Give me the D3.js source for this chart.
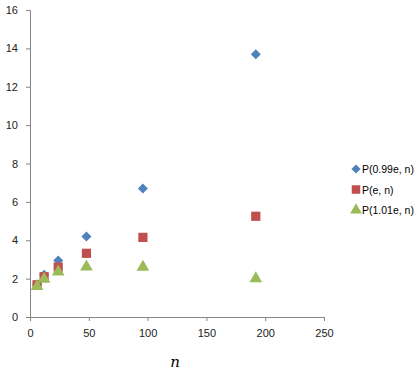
<!DOCTYPE html>
<html lang="en">
    <head>
        <meta charset="UTF-8">
        <script src="https://d3js.org/d3.v7.min.js"></script>
        <title>P(x, n)</title>
        <style>
            body { margin: 0; background: #fff; }
        </style>
    </head>
    <body>
        <div id="container"></div>
    </body>
    <script>
        const nValues = [6, 12, 24, 48, 96, 192];
        const p099 = [1.7, 2.2, 2.95, 4.2, 6.7, 13.7];
        const pE = [1.68, 2.1, 2.6, 3.32, 4.15, 5.25];
        const p101 = [1.6, 1.98, 2.35, 2.62, 2.6, 2.0];
        const seriesNames = ['P(0.99e, n)', 'P(e, n)', 'P(1.01e, n)'];
        const xTicks = [0, 50, 100, 150, 200, 250];
        const yTicks = [0, 2, 4, 6, 8, 10, 12, 14, 16];

        const width = 419;
        const height = 372;
        const margin = {top: 10, right: 95, bottom: 55, left: 30};

        // diamond drawn as a square turned 45 degrees, like the spreadsheet marker
        const series = [
            {name: seriesNames[0], values: p099, color: '#4F81BD', shape: d3.symbolSquare, size: 50, rotate: 45},
            {name: seriesNames[1], values: pE, color: '#C0504D', shape: d3.symbolSquare, size: 85, rotate: 0},
            {name: seriesNames[2], values: p101, color: '#9BBB59', shape: d3.symbolTriangle, size: 70, rotate: 0}
        ];

        const x = d3.scaleLinear().domain([0, 250]).range([margin.left, width - margin.right]);
        const y = d3.scaleLinear().domain([0, 16]).range([height - margin.bottom, margin.top]);

        const svg = d3.select('#container')
            .append('svg')
            .attr('width', width)
            .attr('height', height)
            .style('font-family', '"Liberation Sans", Arial, sans-serif');

        const xAxis = svg.append('g')
            .attr('transform', `translate(0,${y(0)})`)
            .call(d3.axisBottom(x).tickValues(xTicks).tickSize(4).tickPadding(8));

        const yAxis = svg.append('g')
            .attr('transform', `translate(${x(0)},0)`)
            .call(d3.axisLeft(y).tickValues(yTicks).tickSize(4).tickPadding(8));

        [xAxis, yAxis].forEach(function(a){
            a.select('.domain').attr('stroke', '#868686');
            a.selectAll('.tick line').attr('stroke', '#868686');
            a.selectAll('.tick text').attr('fill', '#222').style('font-size', '11px');
        });

        series.forEach(function(s){
            svg.append('g')
                .selectAll('path')
                .data(nValues.map((n, i) => [n, s.values[i]]))
                .enter()
                .append('path')
                .attr('d', d3.symbol().type(s.shape).size(s.size))
                .attr('transform', d => `translate(${x(d[0])},${y(d[1])}) rotate(${s.rotate})`)
                .attr('fill', s.color);
        });

        svg.append('text')
            .attr('x', (x(0) + x(250)) / 2 - 2)
            .attr('y', 367)
            .attr('text-anchor', 'middle')
            .style('font-family', '"DejaVu Serif", serif')
            .style('font-style', 'italic')
            .style('font-size', '15px')
            .text('n');

        const legend = svg.append('g')
            .attr('transform', 'translate(356,169)');

        series.forEach(function(s, i){
            const row = legend.append('g').attr('transform', `translate(0,${i * 20.5})`);
            row.append('path')
                .attr('d', d3.symbol().type(s.shape).size(s.size * 0.85))
                .attr('transform', `rotate(${s.rotate})`)
                .attr('fill', s.color);
            row.append('text')
                .attr('x', 6)
                .attr('y', 4)
                .style('font-size', '10.5px')
                .text(s.name);
        });
    </script>
</html>
